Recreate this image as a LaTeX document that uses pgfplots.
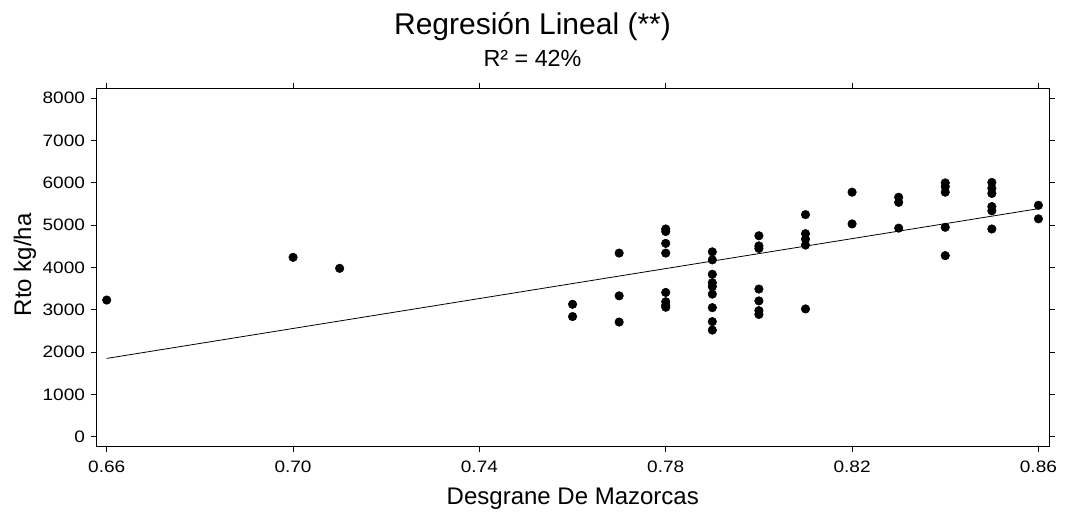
\documentclass[border=0pt]{standalone}
\usepackage{fontspec}
\setmainfont{Liberation Sans}
\newfontfamily\tickfont{Liberation Sans}[FakeStretch=1.15]
\usepackage{pgfplots}
\pgfplotsset{compat=1.18}

% Desgrane de mazorcas vs rendimiento
\pgfplotstableread{
x     y
0.66  3230
0.70  4240
0.71  3980
0.76  3130
0.76  2840
0.77  4340
0.77  3330
0.77  2710
0.78  4910
0.78  4850
0.78  4570
0.78  4340
0.78  3410
0.78  3190
0.78  3110
0.78  3060
0.79  4370
0.79  4180
0.79  3840
0.79  3640
0.79  3550
0.79  3370
0.79  3050
0.79  2720
0.79  2520
0.80  4750
0.80  4510
0.80  4450
0.80  3490
0.80  3210
0.80  2980
0.80  2890
0.81  5250
0.81  4800
0.81  4670
0.81  4530
0.81  3020
0.82  5780
0.82  5030
0.83  5660
0.83  5540
0.83  4930
0.84  6000
0.84  5910
0.84  5780
0.84  4950
0.84  4280
0.85  6010
0.85  5870
0.85  5750
0.85  5440
0.85  5340
0.85  4910
0.86  5470
0.86  5150
}\datos

\begin{document}
\begin{tikzpicture}
\begin{axis}[
    scale only axis,
    width=715.2pt, height=269pt,
    xmin=0.6577, xmax=0.8624,
    ymin=-236, ymax=8243,
    xtick={0.66,0.70,0.74,0.78,0.82,0.86},
    ytick={0,1000,...,8000},
    xticklabel style={yshift=-3.5pt, /pgf/number format/.cd, fixed, fixed zerofill, precision=2},
    yticklabel style={xshift=-1pt},
    /pgf/number format/set thousands separator={},
    /pgf/number format/assume math mode=true,
    tick align=outside,
    tick pos=both,
    major tick length=3.75pt,
    tick style={black, line width=0.6pt},
    axis line style={black, line width=0.6pt},
    tick label style={font=\tickfont\fontsize{12.4}{14}\selectfont},
    xlabel={Desgrane De Mazorcas},
    ylabel={Rto kg/ha},
    label style={font=\fontsize{18}{21}\selectfont},
    xlabel style={at={(axis description cs:0.5,-0.16)}, anchor=base},
    ylabel style={at={(axis description cs:-0.0745,0.507)}, anchor=center},
    clip=false,
]
\coordinate (bl) at (rel axis cs:0,0);
\coordinate (tr) at (rel axis cs:1,1);
% recta de regresion
\addplot[black, line width=0.6pt] coordinates {(0.66,1850) (0.86,5390)};
% observaciones
\addplot[only marks, mark=*, mark size=3.2pt, black] table[x=x, y=y] {\datos};
\end{axis}
\node[anchor=base, font=\fontsize{22.5}{26}\selectfont] at ([shift={(327.4pt,39.75pt)}]bl |- tr) {Regresión Lineal (**)};
\node[anchor=base, font=\fontsize{17.5}{20}\selectfont] at ([shift={(327.4pt,15.75pt)}]bl |- tr) {R² = 42\%};
\pgfresetboundingbox
\path ([shift={(-72pt,-49pt)}]bl) rectangle ([shift={(11.55pt,66pt)}]tr);
\end{tikzpicture}
\end{document}
